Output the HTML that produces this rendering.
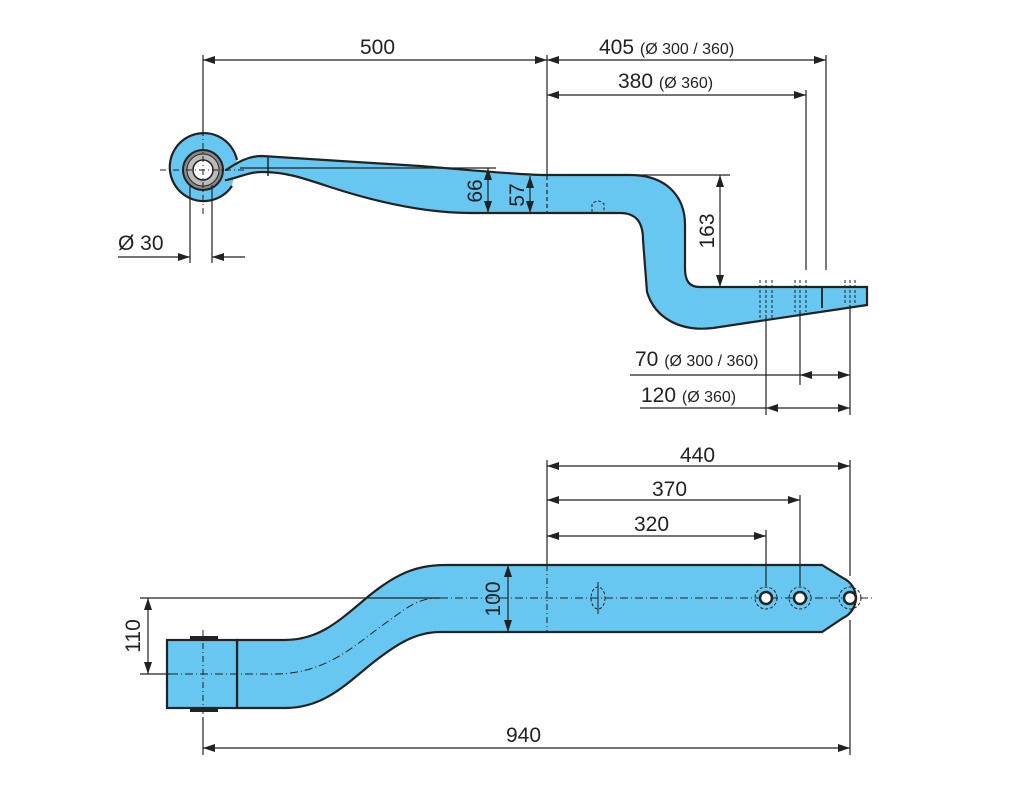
<!DOCTYPE html>
<html><head><meta charset="utf-8"><style>
html,body{margin:0;padding:0;background:#fff;}
svg{display:block;}
text{font-family:"Liberation Sans",sans-serif;fill:#222;}
</style></head><body>
<svg width="1024" height="811" viewBox="0 0 1024 811" xmlns="http://www.w3.org/2000/svg">
<defs>
<marker id="a" viewBox="0 0 12 8" refX="12" refY="4" markerWidth="12" markerHeight="8" orient="auto-start-reverse" markerUnits="userSpaceOnUse"><path d="M0,0 L12,4 L0,8 Z" fill="#222"/></marker>
</defs>
<g stroke="#222" stroke-width="1.2" fill="none">
<!-- eye -->
<path d="M237,160 A34,34 0 1 0 232,186" fill="#67c7f0" stroke-width="2.2"/>
<!-- leaf shape -->
<path d="M226,170 C238,162 248,156 262,156 L420,166 C470,170 520,175 545,175 L630,175 C665,175 685,195 685,225 L685,268 C685,282 690,287 700,287 L867,287 L867,305 L713,328 C680,332 655,318 647,292 L643,240 C643,222 636,213 620,213 L470,213 C420,213 370,200 330,187 C300,177 285,172 262,172 C248,172 238,178 226,180 Z" fill="#67c7f0" stroke-width="2.2"/>
<path d="M226,171 L226,179" stroke="#67c7f0" stroke-width="3"/>
<line x1="268" y1="157" x2="268" y2="176" stroke-width="1.5"/>
<circle cx="203" cy="170" r="20" fill="#888" stroke-width="2"/>
<circle cx="203" cy="170" r="16" fill="#bbb" stroke-width="1"/>
<circle cx="203" cy="170" r="10" fill="#fff" stroke-width="1.5"/>
<line x1="160" y1="170" x2="245" y2="170" stroke-dasharray="6,3,1,3" stroke-width="1"/>
<line x1="203" y1="130" x2="203" y2="215" stroke-dasharray="6,3,1,3" stroke-width="1"/>
<!-- Ø30 -->
<line x1="190" y1="185" x2="190" y2="263"/><line x1="212" y1="185" x2="212" y2="263"/>
<line x1="118" y1="257" x2="190" y2="257" marker-end="url(#a)"/>
<line x1="245" y1="257" x2="212" y2="257" marker-end="url(#a)"/>
<!-- 66 / 57 -->
<line x1="240" y1="168" x2="496" y2="168"/>
<line x1="488" y1="168" x2="488" y2="213" marker-start="url(#a)" marker-end="url(#a)"/>
<line x1="530" y1="176" x2="530" y2="213" marker-start="url(#a)" marker-end="url(#a)"/>
<!-- ext lines top -->
<line x1="203" y1="55" x2="203" y2="136"/>
<line x1="547" y1="55" x2="547" y2="176"/>
<line x1="547" y1="176" x2="547" y2="213" stroke-dasharray="4,3"/>
<line x1="826" y1="55" x2="826" y2="270"/>
<line x1="806" y1="90" x2="806" y2="270"/>
<line x1="203" y1="60" x2="547" y2="60" marker-start="url(#a)" marker-end="url(#a)"/>
<line x1="547" y1="60" x2="826" y2="60" marker-start="url(#a)" marker-end="url(#a)"/>
<line x1="547" y1="95" x2="806" y2="95" marker-start="url(#a)" marker-end="url(#a)"/>
<!-- 163 -->
<line x1="637" y1="175" x2="730" y2="175"/>
<line x1="720" y1="175" x2="720" y2="287" marker-start="url(#a)" marker-end="url(#a)"/>
<!-- holes dashed top -->
<g stroke-dasharray="3,2" stroke-width="1">
<line x1="760" y1="280" x2="760" y2="318"/><line x1="766" y1="280" x2="766" y2="318"/><line x1="772" y1="280" x2="772" y2="318"/>
<line x1="795" y1="280" x2="795" y2="312"/><line x1="800" y1="280" x2="800" y2="312"/><line x1="806" y1="280" x2="806" y2="312"/>
<line x1="845" y1="280" x2="845" y2="305"/><line x1="850" y1="280" x2="850" y2="305"/><line x1="855" y1="280" x2="855" y2="305"/>
<path d="M592,212 L592,204 Q598,198 604,204 L604,212"/>
</g>
<line x1="822" y1="287" x2="822" y2="308" stroke-width="1.8"/>
<line x1="766" y1="318" x2="766" y2="415"/>
<line x1="800" y1="312" x2="800" y2="385"/>
<line x1="850" y1="305" x2="850" y2="415"/>
<line x1="630" y1="375" x2="800" y2="375"/>
<line x1="800" y1="375" x2="850" y2="375" marker-start="url(#a)" marker-end="url(#a)"/>
<line x1="640" y1="408" x2="766" y2="408"/>
<line x1="766" y1="408" x2="850" y2="408" marker-start="url(#a)" marker-end="url(#a)"/>

<!-- ===== BOTTOM VIEW ===== -->
<path d="M237,640 L285,640 C320,640 340,620 370,595 C395,575 415,565 445,565 L822,565 L843,578 A22,22 0 0 1 843,618 L822,632 L440,632 C415,632 395,645 370,665 C340,690 320,708 285,708 L237,708 Z" fill="#67c7f0" stroke-width="2.2"/>
<rect x="167" y="640" width="70" height="68" fill="#67c7f0" stroke-width="2.2"/>
<line x1="190" y1="638" x2="218" y2="638" stroke-width="4"/>
<line x1="190" y1="710" x2="218" y2="710" stroke-width="4"/>
<line x1="140" y1="598" x2="440" y2="598"/>
<line x1="440" y1="598" x2="872" y2="598" stroke-dasharray="8,3,1,3" stroke-width="1"/>
<line x1="140" y1="674" x2="170" y2="674"/>
<path d="M170,674 L275,674 C330,674 360,640 390,620 C410,605 420,598 440,598" stroke-dasharray="8,3,1,3" stroke-width="1"/>
<line x1="148" y1="598" x2="148" y2="674" marker-start="url(#a)" marker-end="url(#a)"/>
<line x1="203" y1="630" x2="203" y2="718" stroke-dasharray="6,3,1,3" stroke-width="1"/>
<line x1="203" y1="718" x2="203" y2="755"/>
<line x1="508" y1="565" x2="508" y2="632" marker-start="url(#a)" marker-end="url(#a)"/>
<line x1="547" y1="460" x2="547" y2="565"/>
<line x1="547" y1="565" x2="547" y2="632" stroke-dasharray="6,3,1,3" stroke-width="1"/>
<ellipse cx="598" cy="598" rx="7" ry="11" stroke-dasharray="3,2" stroke-width="1"/>
<line x1="598" y1="582" x2="598" y2="614" stroke-width="1"/>
<line x1="766" y1="530" x2="766" y2="586"/>
<line x1="800" y1="495" x2="800" y2="586"/>
<line x1="850" y1="460" x2="850" y2="576"/>
<line x1="850" y1="620" x2="850" y2="755"/>
<g>
<circle cx="766" cy="598" r="11" stroke-dasharray="3,2" stroke-width="1"/>
<circle cx="766" cy="598" r="6" fill="#fff" stroke-width="2.5"/>
<circle cx="800" cy="598" r="11" stroke-dasharray="3,2" stroke-width="1"/>
<circle cx="800" cy="598" r="6" fill="#fff" stroke-width="2.5"/>
<circle cx="850" cy="598" r="11" stroke-dasharray="3,2" stroke-width="1"/>
<circle cx="850" cy="598" r="6" fill="#fff" stroke-width="2.5"/>
</g>
<line x1="547" y1="466" x2="850" y2="466" marker-start="url(#a)" marker-end="url(#a)"/>
<line x1="547" y1="500" x2="800" y2="500" marker-start="url(#a)" marker-end="url(#a)"/>
<line x1="547" y1="536" x2="766" y2="536" marker-start="url(#a)" marker-end="url(#a)"/>
<line x1="203" y1="748" x2="850" y2="748" marker-start="url(#a)" marker-end="url(#a)"/>
</g>
<!-- texts -->
<g font-size="21">
<text x="360" y="54">500</text>
<text x="599" y="54">405 <tspan font-size="16">(Ø 300 / 360)</tspan></text>
<text x="618" y="88">380 <tspan font-size="16">(Ø 360)</tspan></text>
<text x="118" y="250">Ø 30</text>
<text transform="translate(482,191) rotate(-90)" text-anchor="middle">66</text>
<text transform="translate(524,195) rotate(-90)" text-anchor="middle">57</text>
<text transform="translate(714,231) rotate(-90)" text-anchor="middle">163</text>
<text x="635" y="366">70 <tspan font-size="16">(Ø 300 / 360)</tspan></text>
<text x="641" y="402">120 <tspan font-size="16">(Ø 360)</tspan></text>
<text x="680" y="462">440</text>
<text x="652" y="496">370</text>
<text x="634" y="531">320</text>
<text transform="translate(500,599) rotate(-90)" text-anchor="middle">100</text>
<text transform="translate(140,636) rotate(-90)" text-anchor="middle">110</text>
<text x="506" y="742">940</text>
</g>
</svg>
</body></html>
